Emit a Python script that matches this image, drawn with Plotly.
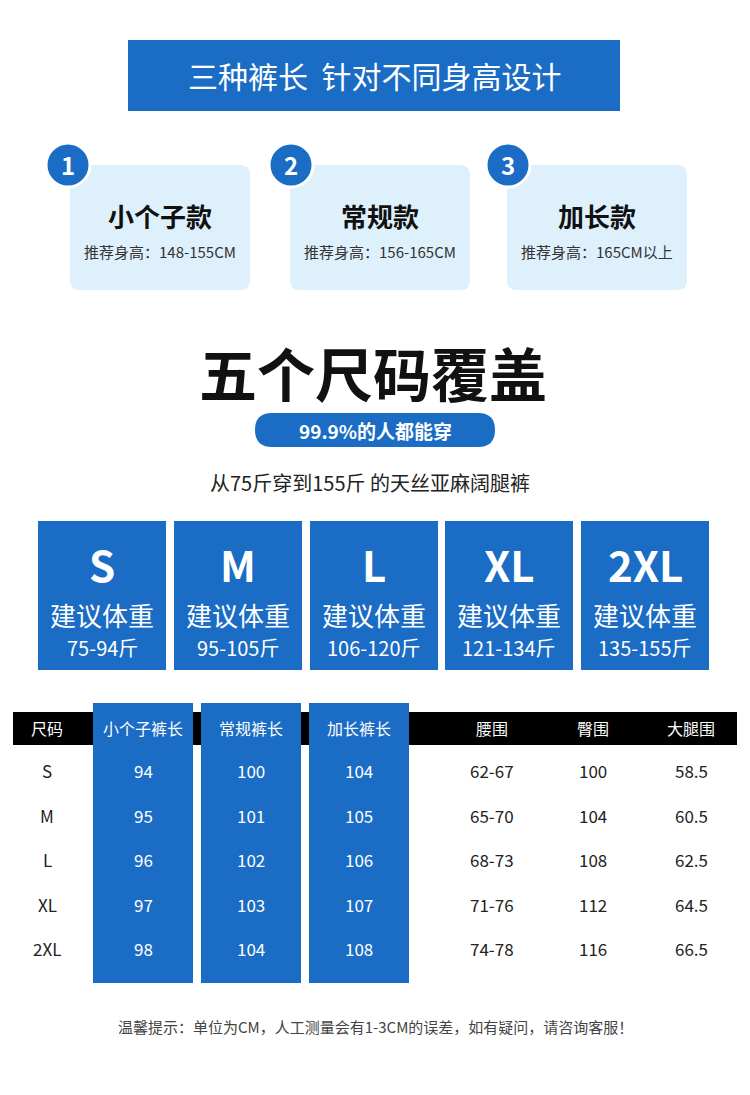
import plotly.graph_objects as go

BLUE = "#1a6cc4"
LIGHT = "#ddf0fb"
FONT = "Noto Sans CJK SC"

banner = "三种裤长  针对不同身高设计"
styles = ["小个子款", "常规款", "加长款"]
style_heights = ["推荐身高：148-155CM", "推荐身高：156-165CM", "推荐身高：165CM以上"]
title = "五个尺码覆盖"
pill = "99.9%的人都能穿"
subtitle = "从75斤穿到155斤 的天丝亚麻阔腿裤"
sizes = ["S", "M", "L", "XL", "2XL"]
weights = ["75-94斤", "95-105斤", "106-120斤", "121-134斤", "135-155斤"]
headers = ["尺码", "小个子裤长", "常规裤长", "加长裤长", "腰围", "臀围", "大腿围"]
short_len = [94, 95, 96, 97, 98]
normal_len = [100, 101, 102, 103, 104]
long_len = [104, 105, 106, 107, 108]
waist = ["62-67", "65-70", "68-73", "71-76", "74-78"]
hip = [100, 104, 108, 112, 116]
thigh = [58.5, 60.5, 62.5, 64.5, 66.5]
footer = "温馨提示：单位为CM，人工测量会有1-3CM的误差，如有疑问，请咨询客服！"

shapes, ann = [], []
def rect(x0, y0, x1, y1, c):
    shapes.append(dict(type="rect", x0=x0, y0=y0, x1=x1, y1=y1, fillcolor=c, line=dict(width=0), layer="below"))
def txt(x, y, t, s, c="#222", bold=False):
    ann.append(dict(x=x, y=y, text=f"<b>{t}</b>" if bold else t, showarrow=False,
                    font=dict(size=s, color=c, family=FONT), xanchor="center", yanchor="middle"))

rect(128, 40, 620, 111, BLUE)
txt(374, 75, banner, 30, "white")
for i, (bx, cx) in enumerate([(70, 68), (290, 291), (507, 508)]):
    shapes.append(dict(type="path", path=f"M {bx+10},165 L {bx+170},165 Q {bx+180},165 {bx+180},175 L {bx+180},280 Q {bx+180},290 {bx+170},290 L {bx+10},290 Q {bx},290 {bx},280 L {bx},175 Q {bx},165 {bx+10},165 Z",
                       fillcolor=LIGHT, line=dict(width=0), layer="below"))
    shapes.append(dict(type="circle", x0=cx-22, y0=143, x1=cx+22, y1=187, fillcolor=BLUE, line=dict(color="white", width=3)))
    txt(cx, 164, str(i+1), 24, "white", True)
    txt(bx+90, 215, styles[i], 26, "#111", True)
    txt(bx+90, 251, style_heights[i], 15, "#333")

txt(373, 372, title, 58, "#111", True)
shapes.append(dict(type="path", path="M 272,413 L 478,413 Q 495,413 495,430 Q 495,447 478,447 L 272,447 Q 255,447 255,430 Q 255,413 272,413 Z",
                   fillcolor=BLUE, line=dict(width=0)))
txt(375, 430, pill, 19, "white", True)
txt(370, 482, subtitle, 20, "#222")

for i, x0 in enumerate([38, 174, 310, 445, 581]):
    rect(x0, 521, x0+128, 670, BLUE)
    cx = x0 + 64
    txt(cx, 563, sizes[i], 42, "white", True)
    txt(cx, 614, "建议体重", 26, "white")
    txt(cx, 647, weights[i], 20, "white")

rect(13, 712, 737, 745, "black")
for x0 in [93, 201, 309]:
    rect(x0, 703, x0+100, 983, BLUE)
cols_x = [47, 143, 251, 359, 492, 593, 691]
for j, h in enumerate(headers):
    txt(cols_x[j], 728, h, 16, "white")
rows_y = [770, 815, 859, 904, 948]
for r in range(5):
    vals = [sizes[r], short_len[r], normal_len[r], long_len[r], waist[r], hip[r], thigh[r]]
    for j, v in enumerate(vals):
        txt(cols_x[j], rows_y[r], str(v), 17, "white" if j in (1, 2, 3) else "#222")

txt(375, 1026, footer, 15, "#444")

fig = go.Figure()
fig.update_layout(width=750, height=1095, margin=dict(l=0, r=0, t=0, b=0),
                  paper_bgcolor="white", plot_bgcolor="white", shapes=shapes, annotations=ann,
                  xaxis=dict(range=[8, 758], visible=False, fixedrange=True),
                  yaxis=dict(range=[1103, 8], visible=False, fixedrange=True))
fig.write_html("out.html")
